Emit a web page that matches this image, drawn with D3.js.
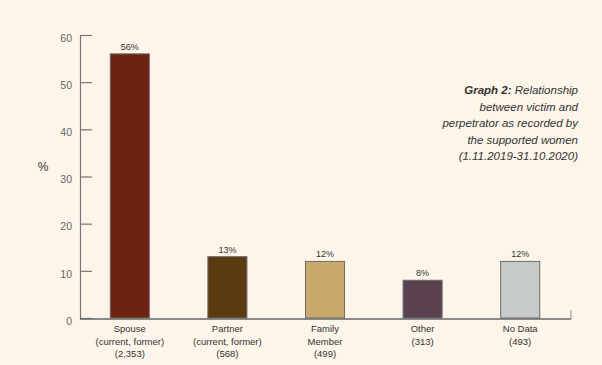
<!DOCTYPE html>
<html>
<head>
<meta charset="utf-8">
<script src="https://cdn.jsdelivr.net/npm/d3@7"></script>
<style>
  body { margin: 0; background: #fdf5ea; }
  svg { display: block; font-family: "Liberation Sans", Arial, sans-serif; }
  .tick text { fill: #666; font-size: 10.5px; }
  .barLabel { fill: #333; font-size: 9px; text-anchor: middle; }
  .catLabel { fill: #333; font-size: 9.5px; text-anchor: middle; }
  .title { fill: #333; font-size: 11.5px; font-style: italic; text-anchor: end; }
</style>
</head>
<body>
<div id="chart"></div>
<script>
var categories = ['Spouse', 'Partner', 'Family Member', 'Other', 'No Data'];
var catLines = [
    ['Spouse', '(current, former)', '(2,353)'],
    ['Partner', '(current, former)', '(568)'],
    ['Family', 'Member', '(499)'],
    ['Other', '(313)'],
    ['No Data', '(493)']
];
var values = [56, 13, 12, 8, 12];
var valueLabels = ['56%', '13%', '12%', '8%', '12%'];
var yTicks = [0, 10, 20, 30, 40, 50, 60];
var colors = ['#6d2310', '#5b3a0f', '#c9a96b', '#5b4251', '#c6cbc7'];
var titleLines = ['Relationship', 'between victim and', 'perpetrator as recorded by', 'the supported women', '(1.11.2019-31.10.2020)'];

var svgWidth = 602;
var svgHeight = 365;

var svg = d3.select('#chart')
    .append('svg')
    .attr('width', svgWidth)
    .attr('height', svgHeight);

var xScale = d3.scaleBand()
    .domain(categories)
    .range([81, 569])
    .paddingInner(0.6)
    .paddingOuter(0.3);

var yScale = d3.scaleLinear()
    .domain([0, 60])
    .range([318, 35]);

// y axis, ticks pointing inward
var leftAxis = d3.axisRight(yScale)
    .tickValues(yTicks)
    .tickSize(12)
    .tickSizeOuter(0)
    .tickPadding(0);

var yAxisG = svg.append('g')
    .attr('transform', 'translate(80,0)')
    .call(leftAxis);
yAxisG.select('.domain').attr('stroke', '#777').attr('stroke-width', 1.2);
yAxisG.selectAll('.tick line').attr('stroke', '#777').attr('stroke-width', 1.2);
yAxisG.selectAll('.tick text')
    .attr('x', -8)
    .attr('dy', '0.6em')
    .attr('text-anchor', 'end');

svg.append('text')
    .attr('x', 43)
    .attr('y', 171)
    .attr('text-anchor', 'middle')
    .attr('fill', '#333')
    .attr('font-size', '12px')
    .text('%');

// baseline
svg.append('line')
    .attr('x1', 80).attr('x2', 571)
    .attr('y1', yScale(0) + 1).attr('y2', yScale(0) + 1)
    .attr('stroke', '#666').attr('stroke-width', 1.5);
svg.append('line')
    .attr('x1', 571).attr('x2', 571)
    .attr('y1', yScale(0) + 1).attr('y2', yScale(0) - 8)
    .attr('stroke', '#888').attr('stroke-width', 1);

svg.selectAll('rect.bar')
    .data(values)
    .enter()
    .append('rect')
    .attr('class', 'bar')
    .attr('x', (d, i) => xScale(categories[i]))
    .attr('y', d => yScale(d))
    .attr('width', xScale.bandwidth())
    .attr('height', d => yScale(0) - yScale(d))
    .attr('fill', (d, i) => colors[i])
    .attr('stroke', '#6b6b6b')
    .attr('stroke-width', 1);

svg.selectAll('text.barLabel')
    .data(values)
    .enter()
    .append('text')
    .attr('class', 'barLabel')
    .attr('x', (d, i) => xScale(categories[i]) + xScale.bandwidth() / 2)
    .attr('y', d => yScale(d) - 4)
    .text((d, i) => valueLabels[i]);

var catGroups = svg.selectAll('text.catLabel')
    .data(catLines)
    .enter()
    .append('text')
    .attr('class', 'catLabel')
    .attr('x', (d, i) => xScale(categories[i]) + xScale.bandwidth() / 2)
    .attr('y', 332);

catGroups.selectAll('tspan')
    .data(d => d)
    .enter()
    .append('tspan')
    .attr('x', function() { return d3.select(this.parentNode).attr('x'); })
    .attr('dy', (d, i) => i === 0 ? 0 : 12.5)
    .text(d => d);

// title block
var title = svg.append('text')
    .attr('class', 'title')
    .attr('x', 578)
    .attr('y', 94);
title.append('tspan').attr('font-weight', 'bold').text('Graph 2: ');
title.append('tspan').text(titleLines[0]);
titleLines.slice(1).forEach(function(line, i) {
    svg.append('text')
        .attr('class', 'title')
        .attr('x', 578)
        .attr('y', 94 + (i + 1) * 16.5)
        .text(line);
});
</script>
</body>
</html>
